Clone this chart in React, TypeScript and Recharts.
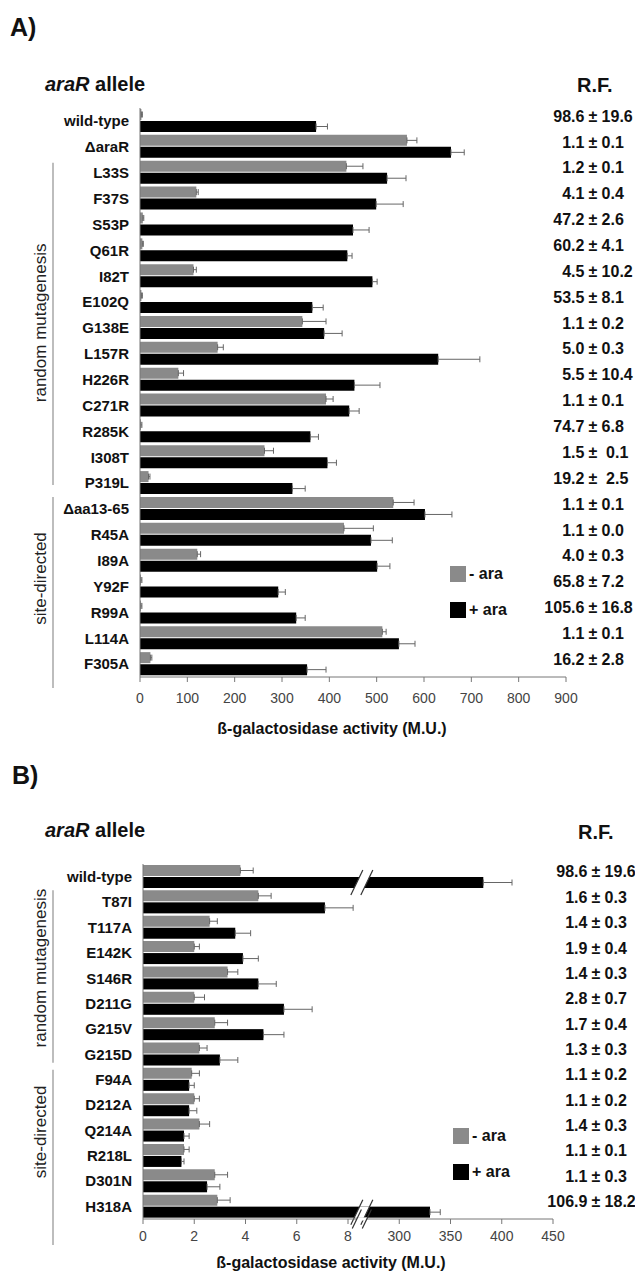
import React from 'react';
import { BarChart, Bar, XAxis, YAxis, ErrorBar, Legend, Label } from 'recharts';

const FONT = '"Liberation Sans", Arial, Helvetica, sans-serif';
const GRAY = '#8a8a8a';
const BLACK = '#000000';

// ---------------- Panel A data ----------------
const allelesA = ['wild-type', 'ΔaraR', 'L33S', 'F37S', 'S53P', 'Q61R', 'I82T', 'E102Q', 'G138E', 'L157R', 'H226R', 'C271R', 'R285K', 'I308T', 'P319L', 'Δaa13-65', 'R45A', 'I89A', 'Y92F', 'R99A', 'L114A', 'F305A'];
const minusAraA = [3, 564, 436, 119, 6, 5, 113, 3, 343, 164, 81, 393, 2, 263, 18, 535, 431, 121, 2, 2, 512, 22];
const minusAraErrA = [2, 21, 35, 4, 2, 2, 6, 2, 50, 12, 11, 15, 2, 19, 3, 44, 62, 7, 2, 2, 8, 3];
const plusAraA = [372, 657, 522, 499, 450, 438, 491, 364, 389, 630, 453, 442, 360, 396, 322, 602, 488, 501, 292, 330, 547, 353];
const plusAraErrA = [24, 28, 40, 57, 34, 10, 10, 23, 38, 88, 54, 21, 17, 19, 27, 57, 45, 27, 15, 19, 34, 40];
const rfMeanA = ['98.6', '1.1', '1.2', '4.1', '47.2', '60.2', '4.5', '53.5', '1.1', '5.0', '5.5', '1.1', '74.7', '1.5', '19.2', '1.1', '1.1', '4.0', '65.8', '105.6', '1.1', '16.2'];
const rfSdA = ['19.6', '0.1', '0.1', '0.4', '2.6', '4.1', '10.2', '8.1', '0.2', '0.3', '10.4', '0.1', '6.8', ' 0.1', ' 2.5', '0.1', '0.0', '0.3', '7.2', '16.8', '0.1', '2.8'];
const xTicksA = [0, 100, 200, 300, 400, 500, 600, 700, 800, 900];
const groupsA = [
  { label: 'random mutagenesis', from: 2, to: 14 },
  { label: 'site-directed', from: 15, to: 21 },
];

// ---------------- Panel B data ----------------
const allelesB = ['wild-type', 'T87I', 'T117A', 'E142K', 'S146R', 'D211G', 'G215V', 'G215D', 'F94A', 'D212A', 'Q214A', 'R218L', 'D301N', 'H318A'];
const minusAraB = [3.8, 4.5, 2.6, 2.0, 3.3, 2.0, 2.8, 2.2, 1.9, 2.0, 2.2, 1.6, 2.8, 2.9];
const minusAraErrB = [0.5, 0.5, 0.3, 0.2, 0.4, 0.4, 0.5, 0.3, 0.3, 0.2, 0.4, 0.2, 0.5, 0.5];
const plusAraB = [382, 7.1, 3.6, 3.9, 4.5, 5.5, 4.7, 3.0, 1.8, 1.8, 1.6, 1.5, 2.5, 330];
const plusAraErrB = [28, 1.1, 0.6, 0.6, 0.7, 1.1, 0.8, 0.7, 0.2, 0.3, 0.2, 0.1, 0.5, 10];
const rfMeanB = ['98.6', '1.6', '1.4', '1.9', '1.4', '2.8', '1.7', '1.3', '1.1', '1.1', '1.4', '1.1', '1.1', '106.9'];
const rfSdB = ['19.6', '0.3', '0.3', '0.4', '0.3', '0.7', '0.4', '0.3', '0.2', '0.2', '0.3', '0.1', '0.3', '18.2'];
const xTickLabelsB = ['0', '2', '4', '6', '8', '300', '350', '400', '450'];
const groupsB = [
  { label: 'random mutagenesis', from: 1, to: 7 },
  { label: 'site-directed', from: 8, to: 13 },
];
const legendOrder = ['- ara', '+ ara'];

// broken axis definition for panel B: low segment 0..8 (step 2), high segment 300..450 (step 50)
const LOW_MAX = 8;
const LOW_STEP = 2;
const HIGH_MIN = 300;
const HIGH_STEP = 50;
const toIdx = (v: number) =>
  v <= (LOW_MAX + HIGH_MIN) / 2 ? v / LOW_STEP : LOW_MAX / LOW_STEP + 1 + (v - HIGH_MIN) / HIGH_STEP;
const BREAK_POS = 4.27; // position of the break marks on the index scale
const xTicksB = xTickLabelsB.map((_, i) => i);

const dataA = allelesA.map((name, i) => ({
  name,
  minus: minusAraA[i],
  minusErr: [0, minusAraErrA[i]],
  plus: plusAraA[i],
  plusErr: [0, plusAraErrA[i]],
}));

const dataB = allelesB.map((name, i) => ({
  name,
  minus: toIdx(minusAraB[i]),
  minusErr: [0, toIdx(minusAraB[i] + minusAraErrB[i]) - toIdx(minusAraB[i])],
  plus: toIdx(plusAraB[i]),
  plusErr: [0, toIdx(plusAraB[i] + plusAraErrB[i]) - toIdx(plusAraB[i])],
}));

// ---------------- layout ----------------
const A = { height: 740, top: 108, axisH: 63, yW: 140, right: 69, rfX: 593, rfDy: -5, tickMargin: 11 };
const B = { offsetTop: 740, height: 531, top: 124, axisH: 52, yW: 143, right: 82, rfX: 596, rfDy: -5, tickMargin: 7 };
const groupStyleA = [
  { startPad: 3, endPad: -11, textShift: -5 },
  { startPad: 1, endPad: 11, textShift: -8 },
];
const groupStyleB = [
  { startPad: 1, endPad: -4, textShift: -10 },
  { startPad: 3, endPad: 26, textShift: -11 },
];
const BRACKET_X = 53;
const GROUP_TEXT_X = 40;

function makeYTick(names: string[], rfMean: string[], rfSd: string[], groups: any[], gStyle: any[], half: number, rfX: number, rfDy: number) {
  return function YTick(props: any) {
    const { x, y, payload } = props;
    const i = names.indexOf(payload.value);
    const ry = y + rfDy;
    const parts: any[] = [];
    parts.push(
      <text key="n" x={x} y={y} dy="0.36em" textAnchor="end" fontFamily={FONT} fontWeight="bold" fontSize={15} fill="#111">
        {payload.value}
      </text>
    );
    parts.push(
      <text key="m" x={rfX - 8.6} y={ry} dy="0.36em" textAnchor="end" fontFamily={FONT} fontWeight="bold" fontSize={16} fill="#111">
        {rfMean[i]}
      </text>
    );
    parts.push(
      <text key="pm" x={rfX} y={ry} dy="0.36em" textAnchor="middle" fontFamily={FONT} fontWeight="bold" fontSize={16} fill="#111">
        ±
      </text>
    );
    parts.push(
      <text key="s" x={rfX + 8.6} y={ry} dy="0.36em" textAnchor="start" fontFamily={FONT} fontWeight="bold" fontSize={16} fill="#111" style={{ whiteSpace: 'pre' }}>
        {rfSd[i]}
      </text>
    );
    groups.forEach((g, gi) => {
      if (g.from === i) {
        const st = gStyle[gi];
        const bandTop = y - half;
        const bandBottom = y + (g.to - g.from) * 2 * half + half;
        const cy = (bandTop + bandBottom) / 2 + st.textShift;
        parts.push(
          <line key={'gl' + gi} x1={BRACKET_X} x2={BRACKET_X} y1={bandTop + st.startPad} y2={bandBottom + st.endPad} stroke="#9a9a9a" strokeWidth={1.3} />
        );
        parts.push(
          <text key={'gt' + gi} x={GROUP_TEXT_X} y={cy} dy="0.36em" textAnchor="middle" transform={`rotate(-90 ${GROUP_TEXT_X} ${cy})`} fontFamily={FONT} fontSize={17} fill="#222">
            {g.label}
          </text>
        );
      }
    });
    return <g>{parts}</g>;
  };
}

function BreakMark({ cx, top, bottom, ext }: { cx: number; top: number; bottom: number; ext: number }) {
  const s = 0.48;
  const gap = 10;
  const cy = (top + bottom) / 2;
  const lx = (x0: number, yy: number) => x0 + (cy - yy) * s;
  const a = cx - gap / 2;
  const b = cx + gap / 2;
  return (
    <g>
      <polygon points={`${lx(a, bottom)},${bottom} ${lx(b, bottom)},${bottom} ${lx(b, top)},${top} ${lx(a, top)},${top}`} fill="#ffffff" />
      <line x1={lx(a, bottom + ext)} y1={bottom + ext} x2={lx(a, top - ext)} y2={top - ext} stroke="#333" strokeWidth={1.2} />
      <line x1={lx(b, bottom + ext)} y1={bottom + ext} x2={lx(b, top - ext)} y2={top - ext} stroke="#333" strokeWidth={1.2} />
    </g>
  );
}

function BrokenBar(props: any) {
  const { x, y, width, height, fill, payload } = props;
  const v = payload.plus;
  return (
    <g>
      <rect x={x} y={y} width={width} height={height} fill={fill} />
      {v > BREAK_POS && width > 0 ? <BreakMark cx={x + (width * BREAK_POS) / v} top={y} bottom={y + height} ext={7} /> : null}
    </g>
  );
}

const plotWidthB = 635 - B.yW - B.right;
function XTickB(props: any) {
  const { x, y, payload } = props;
  const label = xTickLabelsB[payload.value];
  const axisY = y - 5 - B.tickMargin;
  const spacing = plotWidthB / (xTicksB.length - 1);
  return (
    <g>
      <text x={x} y={y} dy="0.71em" textAnchor="middle" fontFamily={FONT} fontSize={14} fill="#444">
        {label}
      </text>
      {payload.value === Math.floor(BREAK_POS) ? (
        <BreakMark cx={x + (BREAK_POS - Math.floor(BREAK_POS)) * spacing} top={axisY - 1.5} bottom={axisY + 1.5} ext={8} />
      ) : null}
    </g>
  );
}

function LegendContent(props: any) {
  const items = [...(props.payload || [])].sort((p: any, q: any) => legendOrder.indexOf(p.value) - legendOrder.indexOf(q.value));
  return (
    <div style={{ fontFamily: FONT }}>
      {items.map((p: any, i: number) => (
        <div key={i} style={{ display: 'flex', alignItems: 'center', height: 16, marginBottom: i === 0 ? 20 : 0 }}>
          <div style={{ width: 16, height: 16, background: p.color }} />
          <span style={{ marginLeft: 3, fontWeight: 'bold', fontSize: 16, color: '#111', whiteSpace: 'nowrap' }}>{p.value}</span>
        </div>
      ))}
    </div>
  );
}

const halfA = (A.height - A.axisH - A.top) / allelesA.length / 2;
const halfB = (B.height - B.axisH - B.top) / allelesB.length / 2;
const YTickA = makeYTick(allelesA, rfMeanA, rfSdA, groupsA, groupStyleA, halfA, A.rfX, A.rfDy);
const YTickB = makeYTick(allelesB, rfMeanB, rfSdB, groupsB, groupStyleB, halfB, B.rfX, B.rfDy);

const titleStyle = { fontFamily: FONT, fontWeight: 'bold', fontSize: 16, fill: '#111' } as any;

function Heading({ left, top, size, children }: any) {
  return (
    <div style={{ position: 'absolute', left, top, fontFamily: FONT, fontWeight: 'bold', fontSize: size, lineHeight: `${size}px`, color: '#111', whiteSpace: 'nowrap' }}>
      {children}
    </div>
  );
}

export default function App() {
  return (
    <div style={{ position: 'absolute', left: 0, top: 0, width: 635, height: 1271, background: '#fff', overflow: 'hidden' }}>
      <Heading left={10} top={15} size={25}>A)</Heading>
      <Heading left={45} top={74} size={20}><i>araR</i> allele</Heading>
      <Heading left={577} top={75} size={20}>R.F.</Heading>
      <Heading left={12} top={763} size={25}>B)</Heading>
      <Heading left={45} top={820} size={20}><i>araR</i> allele</Heading>
      <Heading left={578} top={822} size={20}>R.F.</Heading>

      <div style={{ position: 'absolute', left: 0, top: 0 }}>
        <BarChart width={635} height={A.height} data={dataA} layout="vertical" margin={{ top: A.top, right: A.right, bottom: 0, left: 0 }} barSize={11} barGap={1}>
          <XAxis type="number" domain={[0, 900]} ticks={xTicksA} interval={0} height={A.axisH} tickSize={5} tickMargin={A.tickMargin}
            axisLine={{ stroke: '#777' }} tickLine={{ stroke: '#777' }} tick={{ fontFamily: FONT, fontSize: 14, fill: '#444' }}>
            <Label value="ß-galactosidase activity (M.U.)" position="insideBottom" offset={6} dx={-21} style={titleStyle} />
          </XAxis>
          <YAxis type="category" dataKey="name" width={A.yW} interval={0} tickSize={0} tickMargin={11} tickLine={false} axisLine={{ stroke: '#777' }} tick={YTickA} />
          <Legend content={LegendContent} layout="vertical" align="center" verticalAlign="middle" wrapperStyle={{ left: 450, top: 566, width: 80 }} />
          <Bar dataKey="minus" name="- ara" fill={GRAY} isAnimationActive={false}>
            <ErrorBar dataKey="minusErr" direction="x" width={3} stroke="#666" strokeWidth={1} isAnimationActive={false} />
          </Bar>
          <Bar dataKey="plus" name="+ ara" fill={BLACK} isAnimationActive={false}>
            <ErrorBar dataKey="plusErr" direction="x" width={3} stroke="#666" strokeWidth={1} isAnimationActive={false} />
          </Bar>
        </BarChart>
      </div>

      <div style={{ position: 'absolute', left: 0, top: B.offsetTop }}>
        <BarChart width={635} height={B.height} data={dataB} layout="vertical" margin={{ top: B.top, right: B.right, bottom: 0, left: 0 }} barSize={11} barGap={1}>
          <XAxis type="number" domain={[0, xTicksB.length - 1]} allowDataOverflow ticks={xTicksB} interval={0} height={B.axisH} tickSize={5} tickMargin={B.tickMargin}
            axisLine={{ stroke: '#777' }} tickLine={{ stroke: '#777' }} tick={XTickB}>
            <Label value="ß-galactosidase activity (M.U.)" position="insideBottom" offset={3} dx={-17} style={titleStyle} />
          </XAxis>
          <YAxis type="category" dataKey="name" width={B.yW} interval={0} tickSize={0} tickMargin={11} tickLine={false} axisLine={{ stroke: '#777' }} tick={YTickB} />
          <Legend content={LegendContent} layout="vertical" align="center" verticalAlign="middle" wrapperStyle={{ left: 453, top: 1128 - B.offsetTop, width: 80 }} />
          <Bar dataKey="minus" name="- ara" fill={GRAY} isAnimationActive={false}>
            <ErrorBar dataKey="minusErr" direction="x" width={3} stroke="#666" strokeWidth={1} isAnimationActive={false} />
          </Bar>
          <Bar dataKey="plus" name="+ ara" fill={BLACK} isAnimationActive={false} shape={BrokenBar}>
            <ErrorBar dataKey="plusErr" direction="x" width={3} stroke="#666" strokeWidth={1} isAnimationActive={false} />
          </Bar>
        </BarChart>
      </div>
    </div>
  );
}
